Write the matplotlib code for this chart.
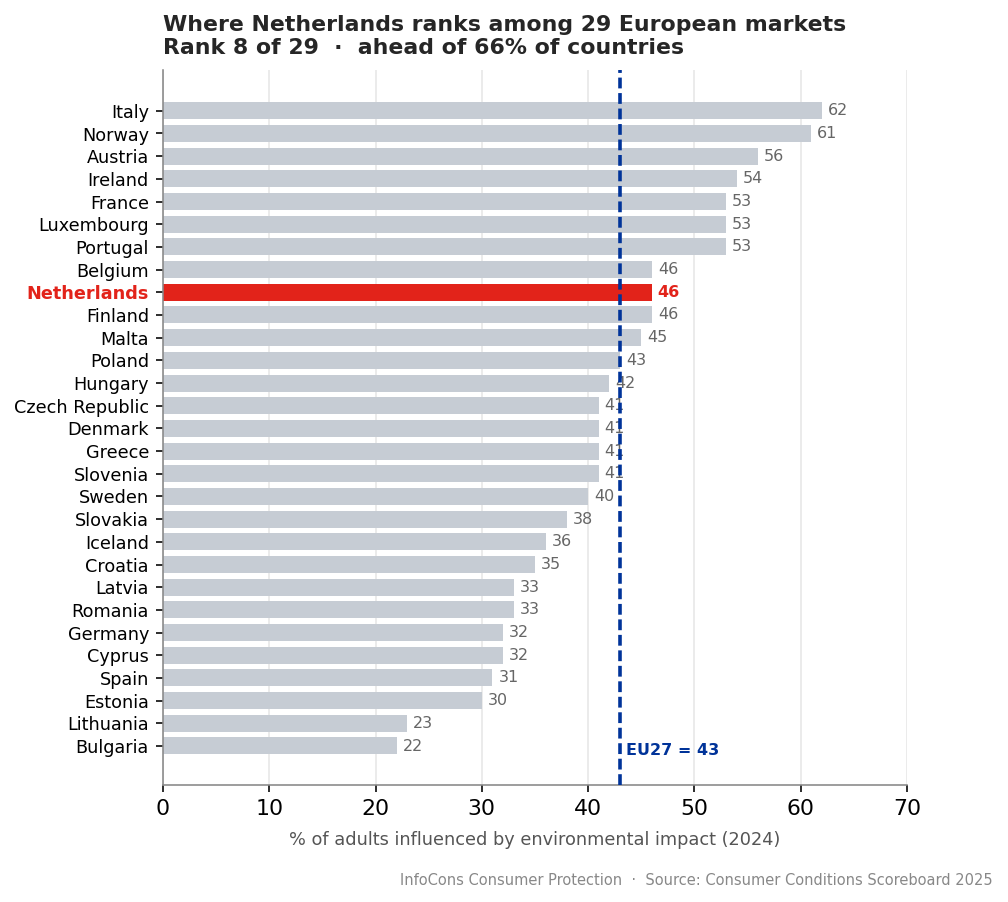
import matplotlib
matplotlib.use("Agg")
import matplotlib.pyplot as plt

# data, top to bottom
countries = ["Italy", "Norway", "Austria", "Ireland", "France", "Luxembourg", "Portugal",
             "Belgium", "Netherlands", "Finland", "Malta", "Poland", "Hungary",
             "Czech Republic", "Denmark", "Greece", "Slovenia", "Sweden", "Slovakia",
             "Iceland", "Croatia", "Latvia", "Romania", "Germany", "Cyprus", "Spain",
             "Estonia", "Lithuania", "Bulgaria"]
values = [62, 61, 56, 54, 53, 53, 53, 46, 46, 46, 45, 43, 42, 41, 41, 41, 41, 40, 38,
          36, 35, 33, 33, 32, 32, 31, 30, 23, 22]
highlight = "Netherlands"
eu_avg = 43

grey = "#c6ccd4"
red = "#e2231a"
blue = "#003399"

fig = plt.figure(figsize=(7.0, 6.264), dpi=144)
ax = fig.add_axes([0.1617, 0.1297, 0.7381, 0.7927])

pos = list(range(len(countries)))
colors = [red if c == highlight else grey for c in countries]
ax.barh(pos, values, height=0.75, color=colors, zorder=2)

for p, c, v in zip(pos, countries, values):
    if c == highlight:
        ax.text(v + 0.55, p, str(v), va="center", ha="left", fontsize=8,
                color=red, fontweight="bold", zorder=3)
    else:
        ax.text(v + 0.55, p, str(v), va="center", ha="left", fontsize=8,
                color="#666666", zorder=3)

# EU average line
ax.axvline(eu_avg, color=blue, lw=1.8, dashes=(3, 1.3), zorder=4)
ax.text(eu_avg + 0.55, len(countries) - 1 + 0.2, f"EU27 = {eu_avg}", color=blue,
        fontsize=8, fontweight="bold", va="center", ha="left", zorder=5)

ax.set_yticks(pos)
ax.set_yticklabels(countries, fontsize=8.8)
for lbl in ax.get_yticklabels():
    if lbl.get_text() == highlight:
        lbl.set_color(red)
        lbl.set_fontweight("bold")
ax.set_ylim(29.72, -1.8)
ax.set_xlim(0, 70)
ax.set_xticks(range(0, 71, 10))
ax.tick_params(axis="x", labelsize=11)

ax.grid(axis="x", color="#ebebeb", lw=1, zorder=0)
ax.set_axisbelow(True)
for s in ["top", "right"]:
    ax.spines[s].set_visible(False)
for s in ["left", "bottom"]:
    ax.spines[s].set_color("#888888")

ax.set_xlabel("% of adults influenced by environmental impact (2024)", fontsize=8.9,
              color="#555555", labelpad=6)
ax.set_title("Where Netherlands ranks among 29 European markets\n"
             "Rank 8 of 29  \u00b7  ahead of 66% of countries",
             loc="left", fontsize=11, fontweight="bold", color="#262626", pad=8)

fig.text(0.985, 0.024, "InfoCons Consumer Protection  \u00b7  Source: Consumer Conditions Scoreboard 2025",
         ha="right", va="center", fontsize=7.3, color="#888888")

fig.savefig("out.png", dpi=144)
